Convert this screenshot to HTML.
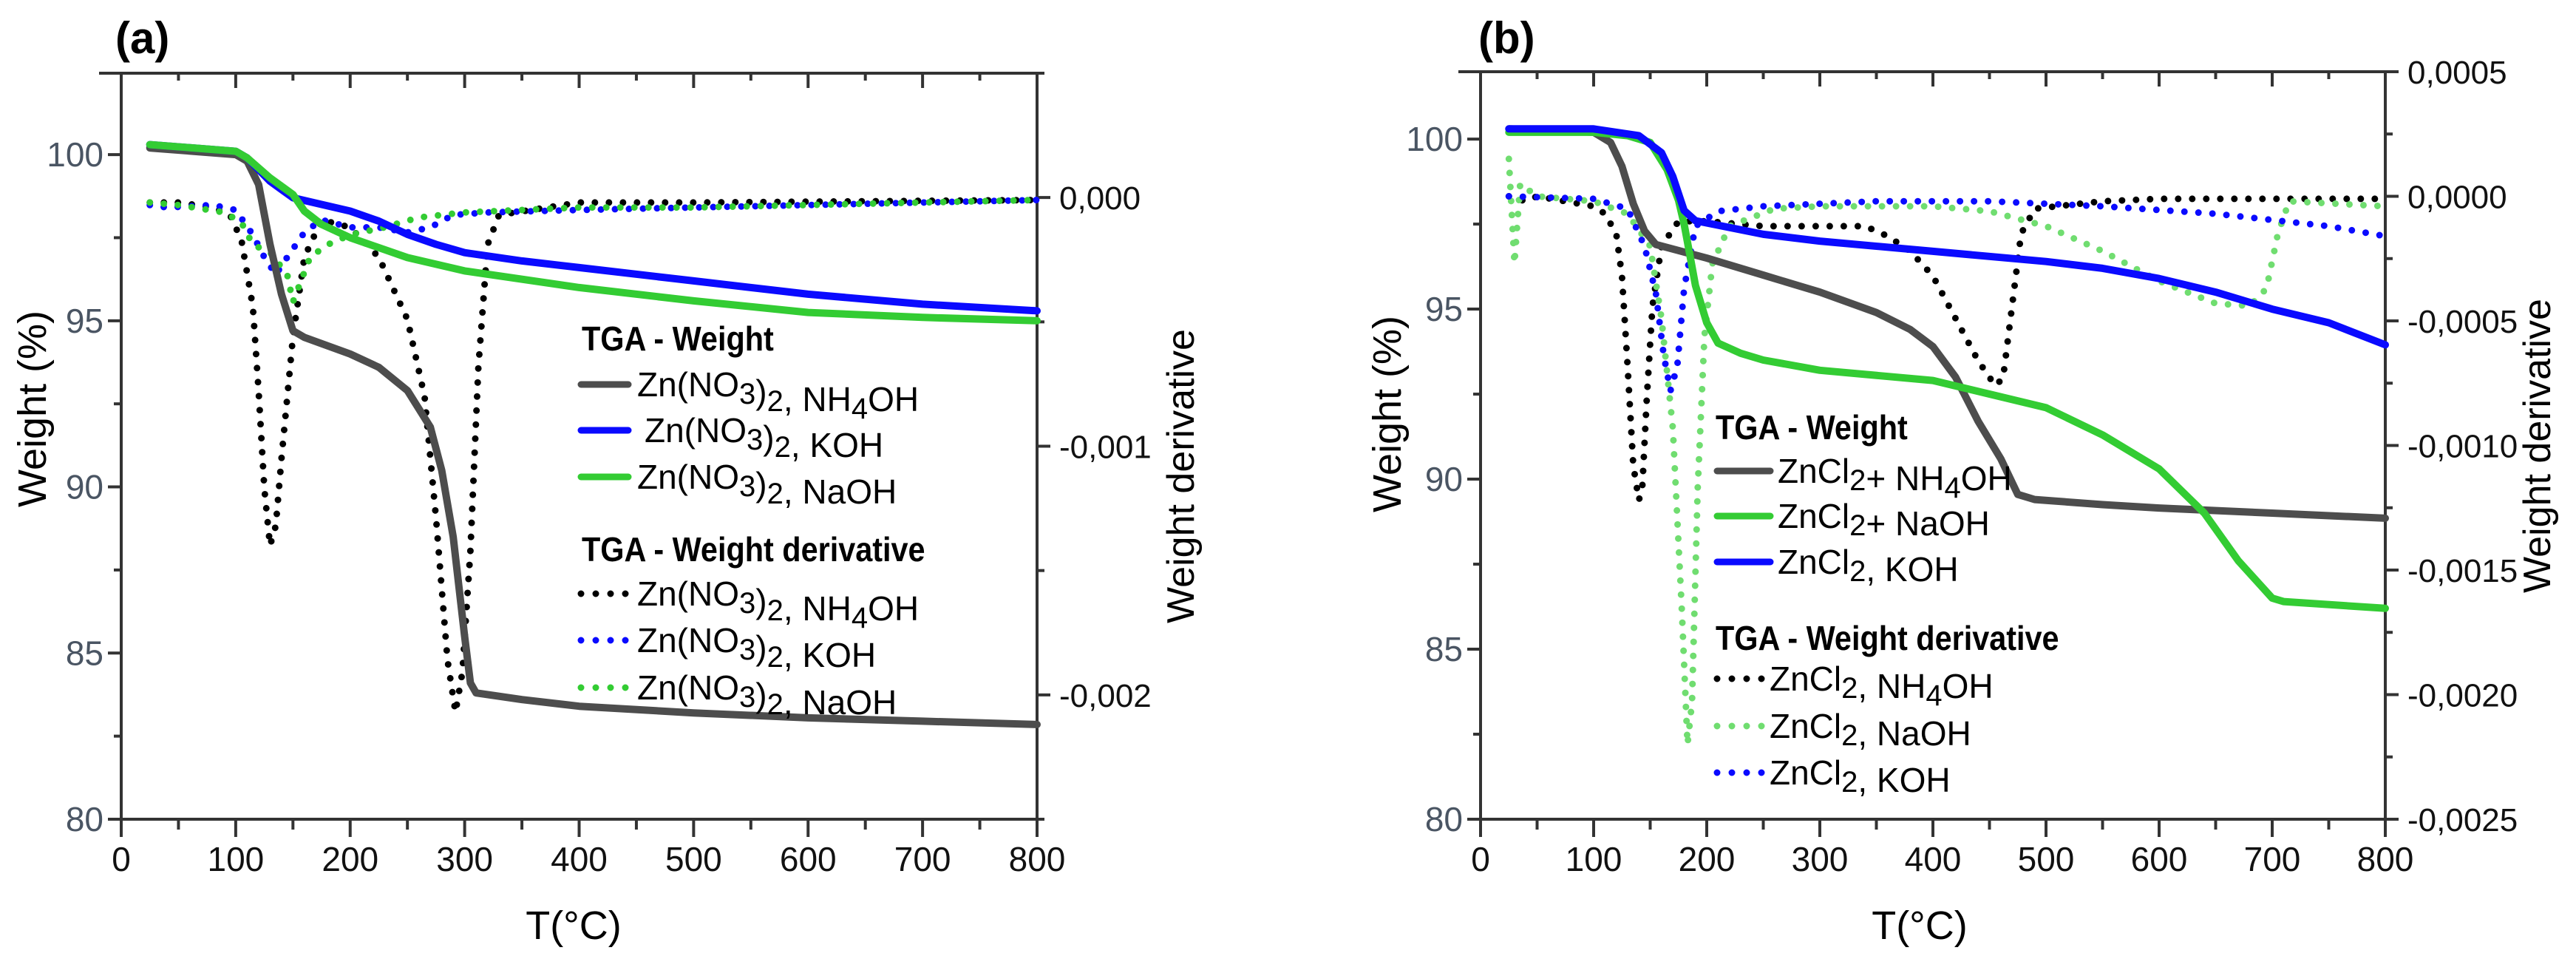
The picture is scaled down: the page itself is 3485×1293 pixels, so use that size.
<!DOCTYPE html>
<html><head><meta charset="utf-8"><style>
html,body{margin:0;padding:0;background:#fff;}
svg{display:block;}
text{font-family:"Liberation Sans",sans-serif;}
</style></head><body>
<svg id="chart" width="3485" height="1293" viewBox="0 0 3485 1293" xmlns="http://www.w3.org/2000/svg"></svg>
<script>
// ---------- Panel (a) data ----------
const aNH4T = [25,100,110,120,130,140,150,160,200,225,250,270,280,290,300,305,310,350,400,500,600,700,800];
const aNH4W = [100.2,100.0,99.8,99.1,97.3,95.8,94.7,94.5,94.0,93.6,92.9,91.8,90.5,88.5,85.5,84.1,83.8,83.6,83.4,83.2,83.05,82.95,82.85];
const aKOHT = [25,100,110,130,150,175,200,225,250,275,300,350,400,500,600,700,800];
const aKOHW = [100.3,100.1,99.9,99.2,98.7,98.5,98.3,98.0,97.6,97.3,97.05,96.8,96.6,96.2,95.8,95.5,95.3];
const aNaT = [25,100,110,130,150,160,175,200,250,300,400,500,600,700,800];
const aNaW = [100.3,100.1,99.9,99.3,98.8,98.3,97.9,97.5,96.9,96.5,96.0,95.6,95.25,95.1,95.0];
const aDNH4T = [25,50,80,95,105,115,120,125,130,135,140,150,160,175,200,225,250,265,275,285,292,298,305,312,320,330,400,500,800];
const aDNH4V = [-0.02,-0.02,-0.04,-0.07,-0.17,-0.44,-0.78,-1.17,-1.40,-1.32,-1.05,-0.56,-0.24,-0.09,-0.12,-0.24,-0.49,-0.80,-1.29,-1.86,-2.07,-1.91,-1.42,-0.68,-0.19,-0.07,-0.02,-0.02,-0.01];
const aDKOHT = [25,40,80,100,115,125,135,145,160,175,200,225,250,270,290,320,400,500,600,800];
const aDKOHV = [-0.03,-0.04,-0.03,-0.05,-0.15,-0.24,-0.31,-0.24,-0.14,-0.09,-0.12,-0.12,-0.14,-0.12,-0.07,-0.06,-0.05,-0.04,-0.03,-0.01];
const aDNaT = [25,50,90,105,115,130,145,150,155,165,180,200,230,260,300,400,500,800];
const aDNaV = [-0.02,-0.03,-0.06,-0.10,-0.19,-0.22,-0.31,-0.42,-0.36,-0.24,-0.19,-0.15,-0.12,-0.08,-0.06,-0.04,-0.04,-0.01];
// ---------- Panel (b) data ----------
const bNH4T = [25,100,115,125,135,145,155,200,250,300,350,380,400,420,440,460,475,490,550,600,700,800];
const bNH4W = [100.3,100.2,99.9,99.2,98.1,97.3,96.9,96.5,96.0,95.5,94.9,94.4,93.9,93.0,91.7,90.6,89.55,89.4,89.25,89.15,89.0,88.85];
const bNaT = [25,100,130,150,165,175,180,185,190,200,210,230,250,300,400,450,500,550,600,640,670,700,710,800];
const bNaW = [100.2,100.2,100.1,99.9,99.1,98.2,97.5,96.6,95.7,94.6,94.0,93.7,93.5,93.2,92.9,92.5,92.1,91.3,90.3,89.0,87.6,86.5,86.4,86.2];
const bKOHT = [25,100,140,160,170,180,190,250,300,400,500,550,600,650,700,750,800];
const bKOHW = [100.3,100.3,100.1,99.6,98.9,97.9,97.6,97.2,97.0,96.7,96.4,96.2,95.9,95.5,95.0,94.6,93.95];
const bDNH4T = [25,40,50,100,110,120,125,130,135,140,143,147,152,160,175,200,250,300,340,360,380,400,420,440,455,462,470,478,490,550,600,800];
const bDNH4V = [0,-0.02,0,-0.04,-0.07,-0.15,-0.32,-0.68,-1.08,-1.22,-1.17,-0.81,-0.44,-0.20,-0.10,-0.10,-0.12,-0.12,-0.12,-0.16,-0.22,-0.32,-0.49,-0.66,-0.76,-0.73,-0.44,-0.15,-0.05,-0.02,-0.01,-0.01];
const bDNaT = [25,30,35,50,100,130,150,160,170,178,183,187,192,198,205,220,260,300,400,450,500,550,600,650,680,695,705,715,800];
const bDNaV = [0.15,-0.27,0.05,0,-0.02,-0.07,-0.20,-0.49,-0.93,-1.66,-2.20,-2.03,-1.17,-0.56,-0.27,-0.12,-0.05,-0.04,-0.04,-0.06,-0.12,-0.22,-0.34,-0.43,-0.44,-0.37,-0.15,-0.02,-0.04];
const bDKOHT = [25,100,130,145,155,162,168,174,180,190,210,250,350,450,550,650,750,800];
const bDKOHV = [0,-0.01,-0.05,-0.20,-0.39,-0.64,-0.78,-0.68,-0.37,-0.12,-0.06,-0.04,-0.02,-0.02,-0.04,-0.07,-0.12,-0.16];
// tick labels
const xTicks = [0,100,200,300,400,500,600,700,800];
const yTicks = [80,85,90,95,100];
const aRTicks = [0,-1,-2];
const aRLabels = ["0,000","-0,001","-0,002"];
const bRTicks = [0.5,0,-0.5,-1,-1.5,-2,-2.5];
const bRLabels = ["0,0005","0,0000","-0,0005","-0,0010","-0,0015","-0,0020","-0,0025"];

const NS="http://www.w3.org/2000/svg";
const svg=document.getElementById('chart');
function mk(tag,attrs,parent){const e=document.createElementNS(NS,tag);for(const k in attrs)e.setAttribute(k,attrs[k]);(parent||svg).appendChild(e);return e;}

const GRAY="#4d4d4d",BLUE="#0a0aff",GREEN="#33cc33",LGREEN="#70dd70";

function panel(p){
  const g=mk('g',{});
  
  
  const X=t=>p.x0+(p.x1-p.x0)*t/800;
  const YL=v=>p.yb-(p.yb-p.yt)*(v-80)/(p.ltop-80);
  const YR=v=>p.yb-(p.yb-p.yt)*(v-(-2.5))/(p.rtop+2.5);
  // frame
  const ax=mk('g',{stroke:"#333","stroke-width":4,fill:"none"},g);
  
  
  mk('line',{x1:p.x0-30,y1:p.yt,x2:p.x1,y2:p.yt},ax);
  mk('line',{x1:p.x0-18,y1:p.yb,x2:p.x1,y2:p.yb},ax);
  mk('line',{x1:p.x0,y1:p.yt,x2:p.x0,y2:p.yb},ax);
  mk('line',{x1:p.x1,y1:p.yt,x2:p.x1,y2:p.yb},ax);
  for(let t=0;t<=800;t+=50){
    const L=t%100===0?20:10;
    mk('line',{x1:X(t),y1:p.yt,x2:X(t),y2:p.yt+L},ax);
    mk('line',{x1:X(t),y1:p.yb,x2:X(t),y2:p.yb+L+4},ax);
  }
  for(let v=80;v<=p.ltop;v+=2.5){
    const L=v%5===0?18:10;
    mk('line',{x1:p.x0-L,y1:YL(v),x2:p.x0,y2:YL(v)},ax);
  }
  for(let v=-2.5;v<=p.rtop+0.001;v+=(p.rminor)){
    const maj=p.rticks.some(r=>Math.abs(r-v)<1e-6);
    mk('line',{x1:p.x1,y1:YR(v),x2:p.x1+(maj?18:10),y2:YR(v)},ax);
  }
  // tick labels
  xTicks.forEach(t=>{
    const e=mk('text',{x:X(t),y:1178,"font-size":46,"text-anchor":"middle",fill:"#111"},g);
    
    
    e.textContent=t;
  });
  yTicks.forEach(v=>{
    const e=mk('text',{x:p.x0-24,y:YL(v)+16,"font-size":46,"text-anchor":"end",fill:"#4a5563"},g);
    
    
    e.textContent=v;
  });
  p.rticks.forEach((v,i)=>{
    const e=mk('text',{x:p.x1+30,y:YR(v)+16,"font-size":44,"text-anchor":"start",fill:"#111"},g);
    
    
    e.textContent=p.rlabels[i];
  });
  // titles
  let e=mk('text',{x:p.lbx,y:72,"font-size":60,"font-weight":"bold",fill:"#000"},g);
  
  
  e.textContent=p.label;
  e=mk('text',{x:0,y:0,"font-size":54,"text-anchor":"middle",fill:"#000",transform:`translate(${p.ltx},${p.lty}) rotate(-90)`},g);
  
  
  e.textContent="Weight (%)";
  e=mk('text',{x:0,y:0,"font-size":52,"text-anchor":"middle",fill:"#000",transform:`translate(${p.rtx},${p.rty}) rotate(-90)`},g);
  
  
  e.textContent="Weight derivative";
  e=mk('text',{x:p.xtx,y:1270,"font-size":54,"text-anchor":"middle",fill:"#000"},g);
  
  
  e.textContent="T(°C)";
  // series
  p.series.forEach(s=>{
    const Y=s.axis==='L'?YL:YR;
    const pts=s.t.map((t,i)=>X(t).toFixed(1)+','+Y(s.v[i]).toFixed(1)).join(' ');
    const attrs={points:pts,fill:"none",stroke:s.color,"stroke-width":s.dot?9:10,"stroke-linejoin":"round","stroke-linecap":"round"};
    if(s.dot){attrs["stroke-dasharray"]="0 19";}
    const pl=mk('polyline',attrs,g);
    
    
  });
  // legend
  const lg=mk('g',{},g);
  
  
  p.legend.forEach(L=>{
    if(L.title){
      const t=mk('text',{x:L.x,y:L.y+16,"font-size":46,"font-weight":"bold",fill:"#000",transform:`translate(${L.x*0.1},0) scale(0.9,1)`},lg);
      
      
      t.textContent=L.title;
    } else {
      const a={x1:L.lx1,y1:L.y,x2:L.lx2,y2:L.y,stroke:L.color,"stroke-width":L.dot?9:9,"stroke-linecap":"round"};
      if(L.dot)a["stroke-dasharray"]="0 20";
      const ln=mk('line',a,lg);
      
      
      const t=mk('text',{x:L.tx,y:L.y+16,"font-size":46,fill:"#000"},lg);
      
      
      t.innerHTML=L.html;
    }
  });
}

const sub=(s)=>`<tspan dy="10" font-size="40">${s}</tspan><tspan dy="-10"></tspan>`;
const znA=`Zn(NO${sub('3')})${sub('2')},`;
panel({name:'panel-a',label:'(a)',lbx:156,x0:164,x1:1403,yt:99,yb:1108,ltop:102.45,rtop:0.5,rminor:0.5,
  rticks:aRTicks,rlabels:aRLabels,ltx:62,lty:553,rtx:1615,rty:644,xtx:776,
  series:[
    {name:'deriv-nh4oh-a',t:aDNH4T,v:aDNH4V,color:"#000",dot:1,axis:'R'},
    {name:'deriv-koh-a',t:aDKOHT,v:aDKOHV,color:BLUE,dot:1,axis:'R'},
    {name:'deriv-naoh-a',t:aDNaT,v:aDNaV,color:GREEN,dot:1,axis:'R'},
    {name:'weight-nh4oh-a',t:aNH4T,v:aNH4W,color:GRAY,axis:'L'},
    {name:'weight-koh-a',t:aKOHT,v:aKOHW,color:BLUE,axis:'L'},
    {name:'weight-naoh-a',t:aNaT,v:aNaW,color:GREEN,axis:'L'}],
  legend:[
    {title:'TGA - Weight',x:787,y:458},
    {lx1:786,lx2:850,tx:862,y:520,color:GRAY,html:`${znA}  NH<tspan dy="10" font-size="40">4</tspan><tspan dy="-10">OH</tspan>`},
    {lx1:786,lx2:850,tx:872,y:582,color:BLUE,html:`${znA} KOH`},
    {lx1:786,lx2:850,tx:862,y:645,color:GREEN,html:`${znA}  NaOH`},
    {title:'TGA - Weight derivative',x:787,y:743},
    {lx1:786,lx2:850,tx:862,y:803,color:"#000",dot:1,html:`${znA}  NH<tspan dy="10" font-size="40">4</tspan><tspan dy="-10">OH</tspan>`},
    {lx1:786,lx2:850,tx:862,y:866,color:BLUE,dot:1,html:`${znA}  KOH`},
    {lx1:786,lx2:850,tx:862,y:930,color:GREEN,dot:1,html:`${znA}  NaOH`}
  ]});
const cl=`ZnCl${sub('2')}`;
panel({name:'panel-b',label:'(b)',lbx:2000,x0:2003,x1:3227,yt:97,yb:1108,ltop:101.98,rtop:0.5,rminor:0.25,
  rticks:bRTicks,rlabels:bRLabels,ltx:1895,lty:560,rtx:3450,rty:603,xtx:2597,
  series:[
    {name:'deriv-nh4oh-b',t:bDNH4T,v:bDNH4V,color:"#000",dot:1,axis:'R'},
    {name:'deriv-naoh-b',t:bDNaT,v:bDNaV,color:LGREEN,dot:1,axis:'R'},
    {name:'deriv-koh-b',t:bDKOHT,v:bDKOHV,color:BLUE,dot:1,axis:'R'},
    {name:'weight-nh4oh-b',t:bNH4T,v:bNH4W,color:GRAY,axis:'L'},
    {name:'weight-naoh-b',t:bNaT,v:bNaW,color:GREEN,axis:'L'},
    {name:'weight-koh-b',t:bKOHT,v:bKOHW,color:BLUE,axis:'L'}],
  legend:[
    {title:'TGA - Weight',x:2321,y:578},
    {lx1:2323,lx2:2395,tx:2405,y:637,color:GRAY,html:`${cl}+ NH<tspan dy="10" font-size="40">4</tspan><tspan dy="-10">OH</tspan>`},
    {lx1:2323,lx2:2395,tx:2405,y:698,color:GREEN,html:`${cl}+ NaOH`},
    {lx1:2323,lx2:2395,tx:2405,y:760,color:BLUE,html:`${cl}, KOH`},
    {title:'TGA - Weight derivative',x:2321,y:863},
    {lx1:2323,lx2:2385,tx:2394,y:918,color:"#000",dot:1,html:`${cl}, NH<tspan dy="10" font-size="40">4</tspan><tspan dy="-10">OH</tspan>`},
    {lx1:2323,lx2:2385,tx:2394,y:982,color:LGREEN,dot:1,html:`${cl}, NaOH`},
    {lx1:2323,lx2:2385,tx:2394,y:1045,color:BLUE,dot:1,html:`${cl}, KOH`}
  ]});
</script>
</body></html>
